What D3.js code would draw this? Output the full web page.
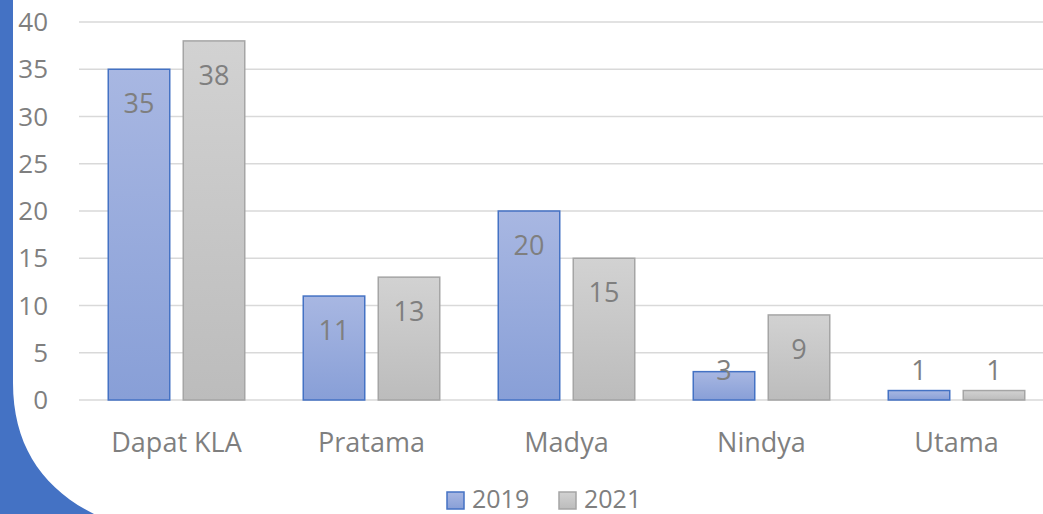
<!DOCTYPE html>
<html>
<head>
<meta charset="utf-8">
<script src="https://cdn.jsdelivr.net/npm/d3@7"></script>
<style>
  html, body { margin: 0; padding: 0; background: #fff; overflow: hidden; }
  text { font-family: "Open Sans", sans-serif; fill: #7f7f7f; }
</style>
</head>
<body>
<svg id="chart" width="1043" height="514"></svg>
<script>
// chart values
const categories = ["Dapat KLA", "Pratama", "Madya", "Nindya", "Utama"];
const seriesNames = ["2019", "2021"];
const values2019 = [35, 11, 20, 3, 1];
const values2021 = [38, 13, 15, 9, 1];
const yTicks = [0, 5, 10, 15, 20, 25, 30, 35, 40];

const svg = d3.select("#chart");
const defs = svg.append("defs");

// bar gradients
const styles = {
    "2019": { top: "#a8b7e2", bottom: "#889fd7", stroke: "#4472c4" },
    "2021": { top: "#d2d2d2", bottom: "#bcbcbc", stroke: "#a5a5a5" }
};
seriesNames.forEach((s, i) => {
    const g = defs.append("linearGradient")
        .attr("id", "grad" + i)
        .attr("x1", 0).attr("y1", 0).attr("x2", 0).attr("y2", 1);
    g.append("stop").attr("offset", "0%").attr("stop-color", styles[s].top);
    g.append("stop").attr("offset", "100%").attr("stop-color", styles[s].bottom);
});

// blue decoration on the left edge of the slide
svg.append("path")
    .attr("d", "M0,0 L13,0 L13,383 C13,445 42,488 94,514 L0,514 Z")
    .attr("fill", "#4472c4");

const y = d3.scaleLinear().domain([0, 40]).range([400, 22]);
const x0 = d3.scaleBand().domain(categories).range([79, 1054])
    .paddingInner(0.3).paddingOuter(0.15);
const x1 = d3.scaleBand().domain(seriesNames).range([0, x0.bandwidth()])
    .paddingInner(0.18);

// gridlines
svg.append("g").selectAll("line")
    .data(yTicks)
    .join("line")
    .attr("x1", 79).attr("x2", 1054)
    .attr("y1", d => y(d)).attr("y2", d => y(d))
    .attr("stroke", "#d9d9d9")
    .attr("stroke-width", 1.3);

// y tick labels
svg.append("g").selectAll("text")
    .data(yTicks)
    .join("text")
    .attr("x", 48)
    .attr("y", d => y(d))
    .attr("dy", "0.35em")
    .attr("text-anchor", "end")
    .attr("font-size", 26)
    .text(d => d);

// build rows for bars
const rows = [];
categories.forEach((c, i) => {
    rows.push({ cat: c, series: "2019", idx: 0, value: values2019[i] });
    rows.push({ cat: c, series: "2021", idx: 1, value: values2021[i] });
});

const bars = svg.append("g");
bars.selectAll("rect")
    .data(rows)
    .join("rect")
    .attr("x", d => x0(d.cat) + x1(d.series))
    .attr("y", d => y(d.value))
    .attr("width", x1.bandwidth())
    .attr("height", d => y(0) - y(d.value))
    .attr("fill", d => "url(#grad" + d.idx + ")")
    .attr("stroke", d => styles[d.series].stroke)
    .attr("stroke-width", 1.5);

// value labels, inside end but kept above the baseline
bars.selectAll("text")
    .data(rows)
    .join("text")
    .attr("x", d => x0(d.cat) + x1(d.series) + x1.bandwidth() / 2)
    .attr("y", d => Math.min(y(d.value) + 44, 380))
    .attr("text-anchor", "middle")
    .attr("font-size", 27)
    .text(d => d.value);

// category labels
svg.append("g").selectAll("text")
    .data(categories)
    .join("text")
    .attr("x", d => x0(d) + x0.bandwidth() / 2)
    .attr("y", 452)
    .attr("text-anchor", "middle")
    .attr("font-size", 27)
    .text(d => d);

// legend (kept just inside the bottom edge)
const legend = svg.append("g");
const legendX = [447, 559];
seriesNames.forEach((s, i) => {
    legend.append("rect")
        .attr("x", legendX[i]).attr("y", 492)
        .attr("width", 17).attr("height", 17)
        .attr("fill", "url(#grad" + i + ")")
        .attr("stroke", styles[s].stroke)
        .attr("stroke-width", 1.5);
    legend.append("text")
        .attr("x", legendX[i] + 25)
        .attr("y", 508)
        .attr("font-size", 25)
        .text(s);
});
</script>
</body>
</html>
